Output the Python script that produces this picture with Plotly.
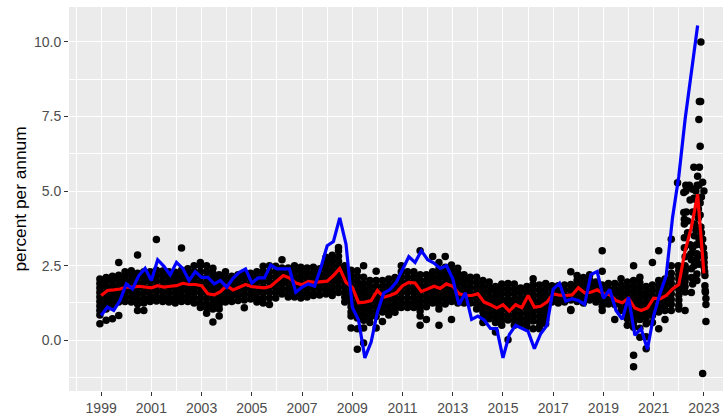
import plotly.graph_objects as go

first_year = 1998.95
quarter_step = 0.25

# survey readings per quarter, 1999 Q1 onward
survey_by_quarter = [
    [2.05,1.9,1.75,1.6,1.45,1.3,1.15,1.0,0.85,0.55],
    [2.1,1.95,1.8,1.62,1.48,1.33,1.18,1.05,0.67],
    [2.15,2.0,1.82,1.66,1.5,1.36,1.25,1.2,0.72],
    [2.18,2.02,1.86,1.7,1.55,1.4,1.28,0.83,2.61],
    [2.3,2.15,1.98,1.8,1.62,1.45,1.3],
    [2.33,2.18,2.0,1.82,1.64,1.46,1.28],
    [2.25,2.1,1.92,1.74,1.56,1.38,1.22,1.0,2.86],
    [2.3,2.12,1.95,1.77,1.6,1.42,1.25,1.0],
    [2.3,2.13,1.96,1.78,1.6,1.43,1.3],
    [2.35,2.18,2.0,1.82,1.65,1.47,1.32,3.38],
    [2.32,2.15,1.97,1.8,1.62,1.45,1.3],
    [2.3,2.12,1.95,1.77,1.6,1.42,1.28],
    [2.28,2.1,1.93,1.75,1.58,1.4,1.25],
    [2.35,2.17,2.0,1.82,1.65,1.47,1.3,3.09],
    [2.4,2.22,2.05,1.87,1.7,1.52,1.35,1.3],
    [2.5,2.3,2.12,1.95,1.77,1.6,1.42,1.25],
    [2.61,2.5,2.3,2.12,1.95,1.77,1.6,1.42,1.25,1.1],
    [2.5,2.3,2.1,1.92,1.75,1.57,1.4,1.22,1.08,0.91],
    [2.41,2.25,2.07,1.9,1.72,1.55,1.37,1.2,1.05,0.61],
    [2.2,2.05,1.87,1.7,1.52,1.35,1.2,1.05,0.81],
    [2.3,2.12,1.95,1.77,1.6,1.42,1.28],
    [2.15,2.0,1.83,1.65,1.48,1.3],
    [2.2,2.03,1.85,1.68,1.5,1.33],
    [2.22,2.05,1.88,1.7,1.53,1.35,1.09],
    [2.25,2.08,1.9,1.72,1.55,1.38],
    [2.3,2.12,1.95,1.77,1.6,1.42,1.28],
    [2.48,2.3,2.12,1.95,1.77,1.6,1.42,1.25],
    [2.5,2.3,2.12,1.95,1.77,1.6,1.42,1.2],
    [2.48,2.3,2.13,1.95,1.78,1.6,1.42],
    [2.7,2.42,2.25,2.07,1.9,1.72,1.55],
    [2.42,2.25,2.07,1.9,1.72,1.55,1.45],
    [2.5,2.33,2.15,1.98,1.8,1.62,1.45],
    [2.45,2.28,2.1,1.92,1.75,1.57,1.42],
    [2.42,2.25,2.07,1.9,1.72,1.55,1.45],
    [2.45,2.27,2.1,1.92,1.75,1.57,1.5],
    [2.4,2.22,2.05,1.87,1.7,1.52],
    [2.78,2.6,2.42,2.25,2.07,1.9,1.72,1.55],
    [2.85,2.7,2.52,2.35,2.17,2.0,1.82,1.65,1.5],
    [3.11,3.0,2.82,2.65,2.47,2.3,2.12,1.95,1.78,1.6],
    [2.5,2.33,2.15,1.98,1.8,1.62,1.45,1.28],
    [2.35,2.18,2.0,1.82,1.65,1.47,1.3,1.12,0.95,0.81,0.41],
    [2.33,2.15,1.97,1.8,1.62,1.45,1.27,1.1,0.92,0.75,0.39,-0.3],
    [2.5,2.11,1.9,1.72,1.55,1.37,1.2,1.02,0.85,0.67,0.41,-0.09],
    [2.0,1.82,1.65,1.47,1.3,1.12,0.95,0.77,0.6],
    [2.31,2.0,1.82,1.65,1.47,1.3,1.12,0.95,0.8,0.41],
    [2.0,1.82,1.65,1.47,1.3,1.12,0.95,0.63],
    [2.05,1.87,1.7,1.52,1.35,1.17,1.0,0.85],
    [2.1,1.92,1.75,1.57,1.4,1.22,1.05,0.94],
    [2.5,2.3,2.12,1.95,1.77,1.6,1.42,1.25,1.1],
    [2.3,2.12,1.95,1.77,1.6,1.42,1.25,1.1],
    [2.3,2.12,1.95,1.77,1.6,1.42,1.25,1.1],
    [3.0,2.2,2.02,1.85,1.67,1.5,1.32,1.15,0.98,0.81,0.5],
    [2.2,2.0,1.82,1.65,1.47,1.3,1.12,0.7],
    [2.81,2.3,2.12,1.95,1.77,1.6,1.42,1.25],
    [2.61,2.4,2.22,2.05,1.87,1.7,1.52,1.35,1.18,1.05,0.5],
    [2.81,2.45,2.28,2.1,1.92,1.75,1.57,1.4,1.22],
    [2.52,2.35,2.17,2.0,1.82,1.65,1.47,1.3,0.7],
    [2.41,2.25,2.07,1.9,1.72,1.55,1.37,1.25],
    [2.2,2.03,1.85,1.68,1.5,1.33,1.25],
    [2.11,1.95,1.77,1.6,1.42,1.25],
    [2.11,1.93,1.75,1.57,1.4,1.22,1.05],
    [2.0,1.82,1.65,1.47,1.3,1.12,0.95,0.78,0.6],
    [1.95,1.78,1.6,1.42,1.25,1.08,0.9,0.72],
    [1.8,1.65,1.47,1.3,1.12,0.95,0.78,0.6,0.28],
    [1.89,1.72,1.55,1.37,1.2,1.02,0.85,0.68,0.5],
    [1.9,1.72,1.55,1.37,1.2,1.02,0.85,0.68,0.02],
    [1.89,1.72,1.55,1.37,1.2,1.02,0.85,0.68,0.5],
    [1.75,1.6,1.42,1.25,1.07,0.9,0.72,0.55],
    [1.8,1.62,1.45,1.27,1.1,0.92,0.75,0.58,0.45],
    [2.06,1.88,1.7,1.52,1.35,1.17,1.0,0.82,0.65,0.39],
    [1.85,1.68,1.5,1.32,1.15,0.97,0.8,0.62,0.45,0.39],
    [1.9,1.73,1.55,1.38,1.2,1.03,0.85,0.68,0.55],
    [1.83,1.7,1.52,1.38,1.28],
    [1.83,1.66,1.5,1.35,1.25],
    [1.85,1.68,1.5,1.33,1.28],
    [2.3,1.87,1.7,1.52,1.35,1.03,1.0],
    [2.17,2.0,1.83,1.65,1.48,1.3],
    [2.1,1.93,1.75,1.58,1.4,1.25],
    [2.2,2.03,1.85,1.68,1.5,1.35],
    [1.95,1.78,1.6,1.43,1.28],
    [3.0,2.31,1.85,1.68,1.5,1.33,1.15,1.0],
    [1.9,1.73,1.55,1.38,1.22],
    [1.9,1.72,1.55,1.37,1.2,0.7],
    [2.06,1.85,1.68,1.5,1.33,1.15,1.0],
    [1.95,1.78,1.6,1.43,1.25,1.08,0.9,0.72,0.5],
    [2.5,2.0,1.82,1.65,1.47,1.3,1.12,0.95,0.77,0.6,0.44,-0.5,-0.89],
    [2.11,1.93,1.75,1.58,1.4,1.22,1.05,0.87,0.7,0.4,0.1],
    [1.8,1.62,1.45,1.27,1.1,0.92,0.75,0.55,0.12,-0.28],
    [2.61,1.85,1.68,1.5,1.33,1.15,0.98,0.83,0.6],
    [3.0,2.0,1.82,1.65,1.47,1.3,1.12,0.95,0.39],
    [2.05,1.87,1.7,1.52,1.35,1.17,1.0,0.7],
    [3.39,2.5,2.25,2.07,1.9,1.72,1.55,1.37,1.2,1.0],
]

# latest readings, read individually
late_x = [2021.95,2021.98,2022.0,2022.0,2022.0,2022.0,2022.0,2022.0,2022.0,2022.0,2022.0,
          2022.2,2022.2,2022.22,2022.22,2022.22,2022.22,2022.25,2022.25,2022.25,2022.25,2022.25,2022.25,2022.25,2022.25,
          2022.28,2022.28,2022.3,2022.35,2022.35,2022.42,2022.45,2022.45,2022.48,2022.5,2022.5,2022.5,2022.5,
          2022.55,2022.55,2022.6,2022.61,2022.62,2022.62,2022.68,2022.68,2022.7,2022.72,2022.72,2022.72,2022.72,
          2022.6,2022.75,2022.82,2022.82,2022.8,2022.85,2022.87,2022.73,2022.8,
          2022.88,2022.88,2022.9,2022.95,2022.95,2022.98,2023.0,2023.0,2023.01,2023.01,2023.01,
          2023.03,2023.04,2023.04,2023.05,2023.06,2023.08,2023.08,2022.95,2023.08,
          2022.78,2022.78,2022.8,2022.8,2022.85,2022.85,2022.9,2022.9,2022.92,2022.68,2022.68,2022.55,2022.55]
late_y = [5.28,2.5,2.35,2.2,2.05,1.87,1.7,1.52,1.35,1.17,1.05,
          4.95,4.28,4.06,3.9,3.44,3.1,2.8,2.5,2.3,2.15,1.97,1.8,1.62,1.0,
          5.2,5.0,4.3,4.0,3.6,5.2,4.7,3.2,2.9,2.7,2.4,2.1,1.6,
          5.06,1.89,4.76,2.5,3.9,3.5,5.0,4.72,3.2,2.9,2.7,2.22,2.0,
          5.8,5.5,5.8,8.0,7.4,6.5,8.0,5.2,5.2,
          10.0,3.8,3.6,5.3,3.39,3.1,5.0,2.9,2.78,2.61,2.45,
          2.3,2.17,1.83,1.67,1.61,1.2,0.63,-1.11,1.4,
          4.4,4.1,3.4,2.55,4.6,4.2,4.8,3.2,2.85,4.3,3.7,4.3,3.1]

# quarterly series from 1999 Q1
line_start = 1999.0
red_values = [1.5,1.67,1.69,1.72,1.78,1.78,1.81,1.79,1.76,1.83,1.78,1.81,1.83,1.91,1.87,1.87,
              1.83,1.56,1.52,1.63,1.83,1.69,1.78,1.87,1.8,1.78,1.76,1.81,2.0,2.17,2.09,1.92,
              1.86,1.97,1.94,1.97,1.98,2.17,2.41,1.94,1.78,1.26,1.28,1.33,1.67,1.44,1.5,1.59,
              1.83,1.94,1.92,1.63,1.72,1.81,1.74,1.89,1.81,1.56,1.5,1.5,1.56,1.28,1.19,1.08,
              1.19,0.98,1.19,1.09,1.5,1.11,1.14,1.28,1.56,1.51,1.5,1.52,1.76,1.59,1.61,1.69,
              1.56,1.53,1.33,1.26,1.41,1.08,1.0,1.08,1.41,1.39,1.5,1.72,1.87,3.0,3.78,4.89,2.24]
blue_values = [0.83,1.11,1.0,1.33,1.89,1.72,2.17,2.41,2.0,2.7,2.48,2.19,2.61,2.41,2.0,2.3,
               2.11,2.11,1.89,2.0,1.78,2.08,2.28,2.39,1.92,2.09,2.09,2.52,2.39,2.39,2.39,1.61,
               1.78,1.89,1.81,2.44,3.17,3.31,4.1,3.22,1.11,0.67,-0.59,-0.06,0.94,1.58,1.7,1.94,
               2.39,2.8,2.61,3.0,2.7,2.59,2.41,2.5,2.06,1.19,1.59,0.7,0.81,0.68,0.4,0.39,
               -0.59,0.19,0.5,0.39,0.3,-0.28,0.22,0.5,1.72,1.91,1.31,1.39,1.33,1.2,2.2,2.3,
               1.41,1.7,1.0,0.7,1.44,0.17,0.39,-0.3,0.83,1.56,2.17,4.11,5.5,7.4,9.0,10.55]

tick_years = list(range(1999, 2024, 2))
y_ticks = [0, 2.5, 5, 7.5, 10]
y_title = "percent per annum"

points_x, points_y = [], []
for i, column in enumerate(survey_by_quarter):
    for v in column:
        points_x.append(first_year + i * quarter_step)
        points_y.append(v)
points_x += late_x
points_y += late_y

red_x = [line_start + i * quarter_step for i in range(len(red_values))]
blue_x = [line_start + i * quarter_step for i in range(len(blue_values))]

fig = go.Figure()
fig.add_trace(go.Scatter(x=points_x, y=points_y, mode="markers",
                         marker=dict(color="black", size=7.5, line=dict(width=0))))
fig.add_trace(go.Scatter(x=red_x, y=red_values, mode="lines", line=dict(color="#FF0000", width=3.2)))
fig.add_trace(go.Scatter(x=blue_x, y=blue_values, mode="lines", line=dict(color="#0000FF", width=3.2)))

tick_font = dict(family="Liberation Sans", size=14, color="#4D4D4D")
grid = dict(showgrid=True, gridcolor="white", gridwidth=1.4, zeroline=False, showline=False,
            ticks="outside", ticklen=4, tickwidth=1.1, tickcolor="#333333", tickfont=tick_font)

fig.update_layout(
    width=723, height=416, showlegend=False,
    margin=dict(l=69, r=0, t=7, b=23, pad=0),
    paper_bgcolor="white", plot_bgcolor="#EBEBEB",
    font=dict(family="Liberation Sans"),
    xaxis=dict(range=[1997.72, 2023.76], tickmode="array", tickvals=tick_years,
               ticktext=[str(y) for y in tick_years],
               minor=dict(dtick=1, tick0=1999, showgrid=True, gridcolor="white", gridwidth=0.7, ticks=""),
               **grid),
    yaxis=dict(range=[-1.7, 11.17], tickmode="array", tickvals=y_ticks,
               ticktext=[f"{v:.1f}" for v in y_ticks],
               minor=dict(dtick=1.25, tick0=0, showgrid=True, gridcolor="white", gridwidth=0.7, ticks=""),
               title=dict(text=y_title, font=dict(family="Liberation Sans", size=17.3, color="black"), standoff=2),
               **grid),
)
fig.write_html("out.html", config=dict(displayModeBar=False), post_script="document.body.style.margin='0';")
